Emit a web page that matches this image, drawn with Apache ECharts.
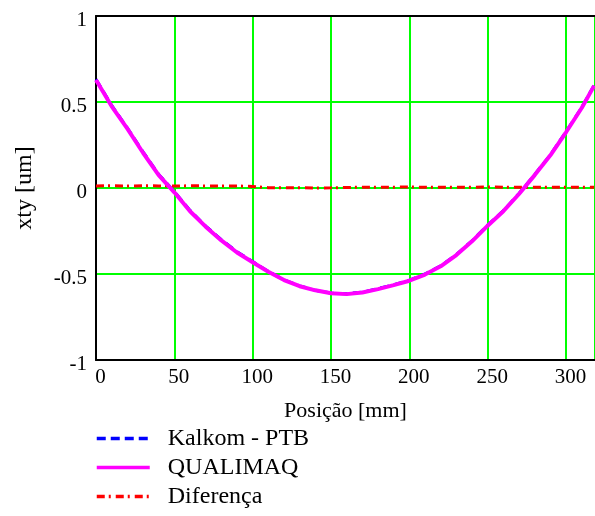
<!DOCTYPE html>
<html>
<head>
<meta charset="utf-8">
<script src="https://cdn.jsdelivr.net/npm/echarts@6/dist/echarts.min.js"></script>
<style>html,body{margin:0;padding:0;background:#fff}#c{width:595px;height:516px}</style>
</head>
<body>
<div id="c"></div>
<script>
const positions = [0,10,20,30,40,50,60,70,80,90,100,110,120,130,140,150,160,170,180,190,200,210,220,230,240,250,260,270,280,290,300,310,318];
const qualimaq = [0.628,0.475,0.345,0.205,0.075,-0.025,-0.135,-0.225,-0.305,-0.375,-0.432,-0.487,-0.535,-0.571,-0.595,-0.612,-0.617,-0.608,-0.588,-0.565,-0.539,-0.503,-0.455,-0.390,-0.310,-0.219,-0.135,-0.035,0.075,0.190,0.324,0.465,0.595];
const kalkom = [0.632,0.480,0.349,0.210,0.079,-0.021,-0.130,-0.221,-0.300,-0.371,-0.428,-0.485,-0.534,-0.569,-0.595,-0.611,-0.615,-0.605,-0.585,-0.562,-0.536,-0.500,-0.452,-0.387,-0.307,-0.216,-0.132,-0.032,0.078,0.193,0.327,0.468,0.598];
const diferenca = [0.012,0.013,0.011,0.013,0.012,0.011,0.013,0.012,0.011,0.012,0.009,0.002,0.001,0.002,0.000,0.001,0.003,0.005,0.004,0.005,0.006,0.004,0.005,0.005,0.004,0.006,0.005,0.004,0.005,0.005,0.004,0.005,0.005];
const seriesNames = ['Kalkom - PTB','QUALIMAQ','Diferença'];
const xTitle = 'Posição [mm]';
const yTitle = 'xty [um]';

const FONT = "'Liberation Serif','Times New Roman',serif";
const pair = (ys) => positions.map((x, i) => [x, ys[i]]);
const chart = echarts.init(document.getElementById('c'), null, {renderer: 'canvas'});
const gridGreen = '#00ff00';
chart.setOption({
  animation: false,
  backgroundColor: '#fff',
  grid: {left: 96, top: 16, right: -1, bottom: 156, containLabel: false},
  legend: {
    data: seriesNames,
    orient: 'vertical',
    left: 95,
    top: 424,
    padding: 0,
    itemWidth: 53,
    itemHeight: 14,
    itemGap: 0,
    itemStyle: {opacity: 0},
    lineStyle: {width: 3.5},
    textStyle: {fontFamily: FONT, fontSize: 24, color: '#000', lineHeight: 29, padding: [0, 0, 0, 13]}
  },
  xAxis: [{
    type: 'value', min: 0, max: 318.5, interval: 50, z: 5,
    name: xTitle, nameLocation: 'middle', nameGap: 40,
    nameTextStyle: {fontFamily: FONT, fontSize: 22, color: '#000'},
    axisLine: {show: true, onZero: false, lineStyle: {color: '#000', width: 2}},
    axisTick: {show: false},
    splitLine: {show: false},
    axisLabel: {fontFamily: FONT, fontSize: 21, color: '#000', margin: 7, padding: [0, 0, 0, 9], showMaxLabel: false}
  }, {
    type: 'value', position: 'top', min: 0, max: 318.5, interval: 50, z: 2,
    axisLine: {show: true, onZero: false, lineStyle: {color: '#000', width: 2}},
    axisTick: {show: false}, axisLabel: {show: false},
    splitLine: {show: true, lineStyle: {color: gridGreen, width: 2}}
  }],
  yAxis: [{
    type: 'value', min: -1, max: 1, interval: 0.5, z: 5,
    name: yTitle, nameLocation: 'middle', nameGap: 59, nameRotate: 90,
    nameTextStyle: {fontFamily: FONT, fontSize: 24, color: '#000'},
    axisLine: {show: true, onZero: false, lineStyle: {color: '#000', width: 2}},
    axisTick: {show: false},
    splitLine: {show: false},
    axisLabel: {fontFamily: FONT, fontSize: 21, color: '#000', margin: 9, verticalAlign: 'top', lineHeight: 8}
  }, {
    type: 'value', position: 'right', min: -1, max: 1, interval: 0.5, z: 1,
    axisLine: {show: false}, axisTick: {show: false}, axisLabel: {show: false},
    splitLine: {show: true, lineStyle: {color: gridGreen, width: 2}}
  }],
  series: [{
    name: seriesNames[0], type: 'line', data: pair(kalkom), symbol: 'none', z: 10,
    lineStyle: {color: '#0000ff', width: 3, type: [9, 5]}, itemStyle: {color: '#0000ff'}
  }, {
    name: seriesNames[1], type: 'line', data: pair(qualimaq), symbol: 'none', z: 12,
    lineStyle: {color: '#ff00ff', width: 4, type: 'solid'}, itemStyle: {color: '#ff00ff'}
  }, {
    name: seriesNames[2], type: 'line', data: pair(diferenca), symbol: 'none', z: 11,
    lineStyle: {color: '#ff0000', width: 3, type: [8, 4, 2, 5]}, itemStyle: {color: '#ff0000'}
  }]
});
</script>
</body>
</html>
